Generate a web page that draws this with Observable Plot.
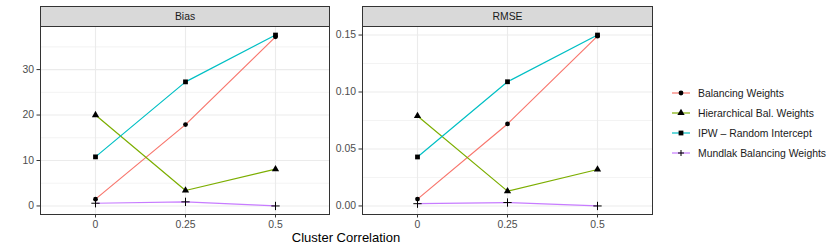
<!DOCTYPE html>
<html><head><meta charset="utf-8">
<script src="https://cdn.jsdelivr.net/npm/d3@7"></script>
<script src="https://cdn.jsdelivr.net/npm/@observablehq/plot@0.6"></script>
<style>
body{margin:0;background:#fff;font-family:"Liberation Sans",Arial,Helvetica,sans-serif;}
#chart{position:relative;width:840px;height:252px;overflow:hidden;background:#fff;}
.panel{position:absolute;top:0;}
.panel svg{background:transparent;}
.strip{position:absolute;top:6px;height:21px;background:#d9d9d9;border:1px solid #333;box-sizing:border-box;font-size:10.4px;color:#1a1a1a;text-align:center;line-height:19px;}
#xtitle{position:absolute;top:230px;left:246px;width:200px;text-align:center;font-size:13px;color:#000;}
#legend{position:absolute;left:670px;top:83px;font-size:10.4px;color:#1a1a1a;}
.lrow{height:20px;display:flex;align-items:center;}
.lrow svg{margin-right:6px;}
</style>
</head><body>
<div id="chart">
  <div class="panel" id="p1"></div>
  <div class="panel" id="p2"></div>
  <div class="strip" style="left:40px;width:290px;">Bias</div>
  <div class="strip" style="left:362px;width:291px;">RMSE</div>
  <div id="xtitle">Cluster Correlation</div>
  <div id="legend"></div>
</div>
<script>
const correlation = ["0", "0.25", "0.5"];
const methods = ["Balancing Weights", "Hierarchical Bal. Weights", "IPW – Random Intercept", "Mundlak Balancing Weights"];
const colors = ["#F8766D", "#7CAE00", "#00BFC4", "#C77CFF"];
const symbols = ["circle", "triangle", "square", "plus"];

const biasBW  = [1.5, 17.9, 37.2];
const biasHBW = [20.0, 3.4, 8.1];
const biasIPW = [10.8, 27.3, 37.6];
const biasMBW = [0.6, 0.9, 0.0];

const rmseBW  = [0.006, 0.072, 0.149];
const rmseHBW = [0.079, 0.013, 0.032];
const rmseIPW = [0.043, 0.109, 0.150];
const rmseMBW = [0.002, 0.003, 0.000];

const biasTicks = [0, 10, 20, 30];
const biasMinor = [5, 15, 25, 35];
const rmseTicks = [0, 0.05, 0.10, 0.15];
const rmseMinor = [0.025, 0.075, 0.125];

const symR = [2.4, 2.7, 2.7, 2.8];

function rowsOf(series) {
  const out = [];
  series.forEach((vals, i) => vals.forEach((v, j) => out.push({method: methods[i], x: correlation[j], y: v})));
  return out;
}

function panel(series, opts) {
  const rows = rowsOf(series);
  const allY = rows.map(d => d.y);
  const lo = Math.min(0, d3.min(allY)), hi = d3.max(allY);
  const pad = (hi - lo) * 0.05;
  const marks = [
    Plot.ruleY(opts.minor, {stroke: "#ebebeb", strokeWidth: 0.6}),
    Plot.ruleY(opts.ticks, {stroke: "#ebebeb", strokeWidth: 1.1}),
    Plot.ruleX(correlation, {stroke: "#ebebeb", strokeWidth: 1.1}),
    Plot.line(rows, {x: "x", y: "y", z: "method", stroke: "method", strokeWidth: 1.2})
  ];
  methods.forEach((m, i) => {
    const isPlus = symbols[i] === "plus";
    marks.push(Plot.dot(rows.filter(d => d.method === m), {
      x: "x", y: "y", symbol: symbols[i], r: symR[i],
      fill: isPlus ? "none" : "black", stroke: isPlus ? "black" : "none", strokeWidth: 1
    }));
  });
  marks.push(Plot.axisY({ticks: opts.ticks, tickSize: 3.5, tickPadding: 3, stroke: "#333", fill: "#4d4d4d", tickFormat: opts.fmt, label: null}));
  marks.push(Plot.axisX({tickSize: 3.5, tickPadding: 2.5, stroke: "#333", fill: "#4d4d4d", label: null}));
  marks.push(Plot.frame({stroke: "#333", strokeWidth: 1}));
  return Plot.plot({
    width: opts.width, height: 252,
    marginLeft: opts.ml, marginRight: opts.mr, marginTop: 26, marginBottom: 38,
    style: {fontSize: "10.4px", fontFamily: "'Liberation Sans', Arial, sans-serif", background: "transparent", overflow: "visible"},
    x: {type: "point", domain: correlation, padding: 0.6, label: null},
    y: {domain: [lo - pad, hi + pad], label: null},
    color: {domain: methods, range: colors},
    marks
  });
}

const p1 = panel([biasBW, biasHBW, biasIPW, biasMBW], {width: 335, ml: 40, mr: 6, ticks: biasTicks, minor: biasMinor, fmt: d3.format("d")});
document.getElementById("p1").style.left = "0px";
document.getElementById("p1").appendChild(p1);

const p2 = panel([rmseBW, rmseHBW, rmseIPW, rmseMBW], {width: 328, ml: 32, mr: 6, ticks: rmseTicks, minor: rmseMinor, fmt: d3.format(".2f")});
document.getElementById("p2").style.left = "330px";
document.getElementById("p2").appendChild(p2);

// legend
const leg = document.getElementById("legend");
methods.forEach((m, i) => {
  const row = document.createElement("div");
  row.className = "lrow";
  const sym = d3.symbol(
    {circle: d3.symbolCircle, triangle: d3.symbolTriangle, square: d3.symbolSquare, plus: d3.symbolPlus}[symbols[i]],
    Math.PI * symR[i] * symR[i]
  )();
  const isPlus = symbols[i] === "plus";
  const plusPath = "M-3,0H3M0,-3V3";
  row.innerHTML = `<svg width="22" height="20"><line x1="2" x2="20" y1="10" y2="10" stroke="${colors[i]}" stroke-width="1.2"/>` +
    `<path transform="translate(11,10)" d="${isPlus ? plusPath : sym}" fill="${isPlus ? "none" : "black"}" stroke="${isPlus ? "black" : "none"}"/></svg>` +
    `<span>${m}</span>`;
  leg.appendChild(row);
});
</script>
</body></html>
